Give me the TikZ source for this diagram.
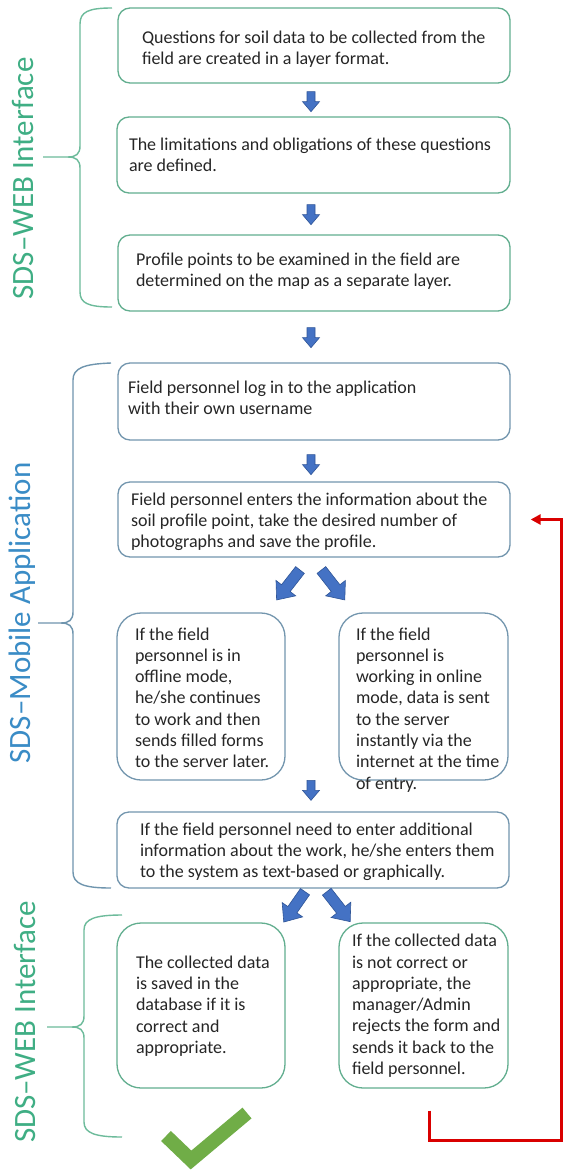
\documentclass[tikz,border=0pt]{standalone}
\usepackage{fontspec}
\setmainfont{Carlito}
\usetikzlibrary{arrows.meta,calc}
\definecolor{webedge}{HTML}{62AE8F}
\definecolor{mobedge}{HTML}{7396AE}
\definecolor{webbr}{HTML}{6DBB9B}
\definecolor{mobbr}{HTML}{6F95AE}
\definecolor{weblab}{HTML}{3FAE84}
\definecolor{moblab}{HTML}{3A8CC6}
\definecolor{arrowblue}{HTML}{4472C4}
\definecolor{arrowedge}{HTML}{2F5597}
\definecolor{redline}{HTML}{D90000}
\definecolor{checkg}{HTML}{70AD47}
\definecolor{txt}{HTML}{262626}
\newcommand\boxtxt[5]{\parbox[c][#2pt][t]{#1pt}{\vspace*{#3pt}\noindent\hbox{\kern#4pt\begin{tabular}[t]{@{}l@{}}#5\end{tabular}}}}
\tikzset{
  card/.style={line width=1.3pt, rounded corners=12pt, inner sep=0pt, text=txt,
    font=\fontsize{18}{21.3}\selectfont},
  webbox/.style={card, draw=webedge},
  mobbox/.style={card, draw=mobedge},
  tallbox/.style={rounded corners=24pt},
  sidelabel/.style={rotate=90, anchor=base, inner sep=0pt, font=\fontsize{31}{36}\selectfont},
  bracketline/.style={line width=1.4pt},
  pics/barrow/.style args={#1/#2/#3/#4}{code={
    \filldraw[fill=arrowblue, draw=arrowedge, line width=0.6pt]
      (0,{-#2/2}) -- ({#1-#4},{-#2/2}) -- ({#1-#4},{-#3/2}) -- (#1,0)
      -- ({#1-#4},{#3/2}) -- ({#1-#4},{#2/2}) -- (0,{#2/2}) -- cycle;
  }},
  redconn/.style={draw=redline, line width=3pt, -{Triangle[length=10pt,width=10pt]}},
}
\begin{document}
\begin{tikzpicture}[x=1pt,y=-1pt]
\fill[white] (0,0) rectangle (563,1173);
\useasboundingbox (0,0) rectangle (563,1173);

% ---------- boxes ----------
\node[webbox] (b1) at (314,45.5) {\boxtxt{392}{75}{20.1}{24}{Questions for soil data to be collected from the\\ field are created  in a layer format.}};
\node[webbox] (b2) at (313.5,155) {\boxtxt{393}{76}{18.6}{12}{The limitations and obligations of these questions\\ are defined.}};
\node[webbox] (b3) at (314,273) {\boxtxt{392}{76}{15.1}{18}{Profile points to be examined in the field are\\ determined on the map as a separate layer.}};
\node[mobbox] (b4) at (314,401.5) {\boxtxt{392}{77}{15.4}{10}{Field personnel log in to the application\\ with their own username}};
\node[mobbox] (b5) at (314,519.5) {\boxtxt{392}{75}{8.1}{13}{Field personnel enters the information about the\\ soil profile point, take the desired number of\\ photographs and save the profile.}};
\node[mobbox,tallbox] (b6) at (201,696.5) {\boxtxt{168}{167}{12.1}{18}{If the field\\ personnel is in\\ offline mode,\\ he/she continues\\ to work and then\\ sends filled forms\\ to the server later.}};
\node[mobbox,tallbox] (b7) at (423.5,696.5) {\boxtxt{169}{167}{12.1}{17}{If the field\\ personnel is\\ working in online\\ mode, data is sent\\ to the server\\ instantly via the\\ internet at the time\\ of entry.}};
\node[mobbox] (b8) at (313,850) {\boxtxt{392}{76}{8.1}{23}{If the field personnel need to enter additional\\ information about the work, he/she enters them\\ to the system as text-based or graphically.}};
\node[webbox,tallbox] (b9) at (201,1005.5) {\boxtxt{168}{165}{30.4}{19}{The collected data\\ is saved in the\\ database if it is\\ correct and\\ appropriate.}};
\node[webbox,tallbox] (b10) at (423.5,1005.5) {\boxtxt{169}{165}{8.8}{13}{If the collected data\\ is not correct or\\ appropriate, the\\ manager/Admin\\ rejects the form and\\ sends it back to the\\ field personnel.}};

% ---------- block arrows ----------
\pic[rotate=-90] at ($(b1.south)+(-3,8)$) {barrow=20/8/17/10};
\pic[rotate=-90] at ($(b2.south)+(-2.5,11)$) {barrow=20/8/17/10};
\pic[rotate=-90] at ($(b3.south)+(-3,16)$) {barrow=20/8/17/10};
\pic[rotate=-90] at ($(b4.south)+(-3,14)$) {barrow=20/8/17/10};
\pic[rotate=-90] at ($(b8.north)+(-2,-31)$) {barrow=20/8/17/10};
\pic[rotate=-128] at (300,570) {barrow=38/11/25/15};
\pic[rotate=-52] at (321.4,570) {barrow=38/11/25/15};
\pic[rotate=-125] at (305,891.7) {barrow=37/11/25/15};
\pic[rotate=-52] at (326.8,891.7) {barrow=38/11/25/15};

% ---------- brackets ----------
\draw[bracketline, draw=webbr] (112,8) .. controls (88,8) and (80,12) .. (80,24) -- (80,146) .. controls (80,154) and (76,157) .. (68,157) -- (43,157);
\draw[bracketline, draw=webbr] (68,157) .. controls (76,157) and (80,160) .. (80,168) -- (80,292) .. controls (80,303) and (88,307) .. (112,307);

\draw[bracketline, draw=mobbr] (111,363) .. controls (84,364) and (73,368) .. (73,380) -- (73,612) .. controls (73,620) and (69,623) .. (61,623) -- (38,623);
\draw[bracketline, draw=mobbr] (61,623) .. controls (69,623) and (73,626) .. (73,634) -- (73,872) .. controls (73,884) and (84,888) .. (111,888);

\draw[bracketline, draw=webbr] (122,915) .. controls (95,915) and (84,919) .. (84,930) -- (84,1016) .. controls (84,1024) and (80,1027) .. (72,1027) -- (47,1027);
\draw[bracketline, draw=webbr] (72,1027) .. controls (80,1027) and (84,1030) .. (84,1038) -- (84,1122) .. controls (84,1133) and (95,1137) .. (122,1137);

% ---------- side labels ----------
\node[sidelabel, text=weblab] (l1) at (33.5,178.5) {SDS–WEB Interface};
\node[sidelabel, text=moblab] (l2) at (30.5,613) {SDS–Mobile Application};
\node[sidelabel, text=weblab] (l3) at (35.5,1022) {SDS–WEB Interface};

% ---------- red return connector ----------
\coordinate (r0) at ($(b10.south)+(5.5,22)$);
\coordinate (r1) at ($(b5.east)+(20,0)$);
\coordinate (rc) at (561,1140);
\draw[redconn] (r0) |- (rc) |- (r1);

% ---------- check mark ----------
\draw[draw=checkg, line width=14pt, line join=miter] (166,1136) -- (191,1160) -- (247,1113);
\end{tikzpicture}
\end{document}
